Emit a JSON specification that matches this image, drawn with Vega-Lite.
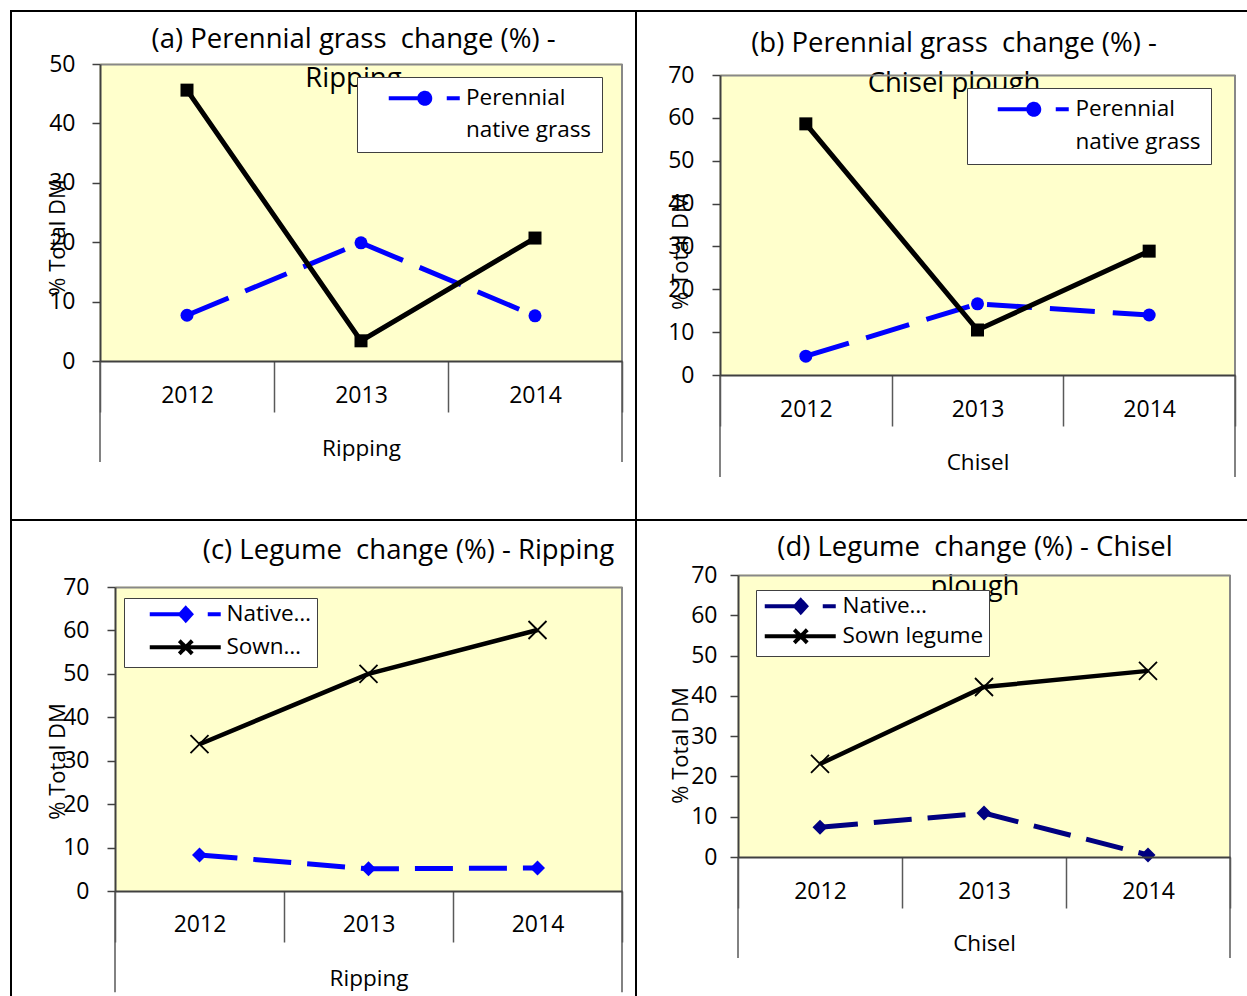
{
  "$schema": "https://vega.github.io/schema/vega-lite/v6.json",
  "background": "white",
  "padding": {"left": 10, "top": 10, "right": 0, "bottom": 0},
  "config": {
    "view": {"stroke": "black", "strokeWidth": 2, "fill": "white"},
    "font": "Open Sans",
    "axis": {"labelFont": "Open Sans", "titleFont": "Open Sans", "labelColor": "black", "titleColor": "black", "titleFontWeight": "normal", "labelFontSize": 23, "titleFontSize": 22.5, "grid": false},
    "legend": {"labelFont": "Open Sans", "labelFontSize": 22.5, "labelColor": "black"},
    "title": {"font": "Open Sans", "fontSize": 27.5, "fontWeight": "normal", "color": "black"}
  },
  "columns": 2,
  "spacing": 0,
  "bounds": "flush",
  "resolve": {"scale": {"x": "independent", "y": "independent", "color": "independent"}, "legend": {"color": "independent"}, "axis": {"x": "independent", "y": "independent"}},
  "concat": [
    {
      "width": 625, "height": 509,
      "title": {"text": ["(a) Perennial grass\u00a0 change (%) -", "Ripping"], "anchor": "middle", "frame": "group", "offset": -81, "dx": 30, "lineHeight": 39, "zindex": 0},
      "data": {"values": [
        {"year": "2012", "series": "Perennial native grass", "value": 7.7},
        {"year": "2013", "series": "Perennial native grass", "value": 19.9},
        {"year": "2014", "series": "Perennial native grass", "value": 7.6},
        {"year": "2012", "series": "Sown perennial grass", "value": 45.6},
        {"year": "2013", "series": "Sown perennial grass", "value": 3.4},
        {"year": "2014", "series": "Sown perennial grass", "value": 20.7}
      ]},
      "layer": [
        {
          "transform": [{"filter": "datum.series === 'Perennial native grass'"}],
          "mark": {"type": "rect", "fill": "#FFFFCC", "stroke": "#FFFFCC", "strokeWidth": 1},
          "encoding": {
            "x": {"field": "year", "type": "ordinal", "scale": {"type": "band", "range": [89, 611], "paddingInner": 0, "paddingOuter": 0},
              "axis": {"orient": "bottom", "offset": -159, "tickBand": "extent", "tickSize": 51, "tickColor": "#595959", "tickWidth": 1.5, "domainColor": "#404040", "domainWidth": 2, "labelAngle": 0, "labelBaseline": "middle", "labelPadding": -17, "title": "Ripping", "titleY": 87, "titleBaseline": "middle", "zindex": 1}},
            "y": {"datum": 0, "type": "quantitative", "scale": {"domain": [0, 50], "range": [350, 53], "nice": false, "zero": false},
              "axis": {"orient": "left", "offset": -89, "values": [0, 10, 20, 30, 40, 50], "tickSize": 8, "tickColor": "#404040", "tickWidth": 1.5, "domainColor": "#404040", "domainWidth": 2, "labelPadding": 17, "title": "% Total DM", "titleFontSize": 22, "titleAngle": 270, "titleX": -43, "titleY": 226, "titleAlign": "center", "titleBaseline": "middle", "grid": true, "gridColor": "#888888", "gridWidth": 2, "gridOpacity": {"condition": {"test": "datum.value === 50", "value": 1}, "value": 0}, "zindex": 1}},
            "y2": {"datum": 50}
          }
        },
        {
          "transform": [{"filter": "datum.series === 'Perennial native grass' && datum.year === '2014'"}],
          "mark": {"type": "rule", "color": "#888888", "strokeWidth": 2},
          "encoding": {"x": {"field": "year", "type": "ordinal", "bandPosition": 1}, "y": {"datum": 0}, "y2": {"datum": 50}}
        },
        {
          "transform": [{"filter": "datum.series === 'Perennial native grass' && datum.year === '2014'"}],
          "mark": {"type": "rule", "color": "#595959", "strokeWidth": 1.5},
          "encoding": {"x": {"field": "year", "type": "ordinal", "bandPosition": 1}, "y": {"datum": -17}, "y2": {"datum": 0}}
        },
        {
          "transform": [{"filter": "datum.series === 'Perennial native grass' && datum.year === '2012'"}],
          "mark": {"type": "rule", "color": "#595959", "strokeWidth": 1.5},
          "encoding": {"x": {"field": "year", "type": "ordinal", "bandPosition": 0}, "y": {"datum": -17}, "y2": {"datum": 0}}
        },
        {
          "transform": [{"filter": "datum.series === 'Perennial native grass'"}],
          "mark": {"type": "line", "strokeDash": [45, 18], "strokeWidth": 5},
          "encoding": {
            "x": {"field": "year", "type": "ordinal"},
            "y": {"field": "value", "type": "quantitative"},
            "color": {"field": "series", "type": "nominal", "scale": {"domain": ["Perennial native grass"], "range": ["#0000ff"]},
              "legend": {"orient": "none", "legendX": 346, "legendY": 66, "title": null, "fillColor": "white", "strokeColor": "#404040", "padding": 10, "labelExpr": "['Perennial', 'native grass\u00a0\u00a0']", "labelOffset": 0, "symbolOffset": 76.5, "labelLimit": 400, "symbolType": "M -13.2 0 L -6.0 0 M -4.9 0 A 1.1 1.1 0 1 1 -7.1 0 A 1.1 1.1 0 1 1 -4.9 0 Z M -1.6 0 L 1 0", "symbolSize": 100, "symbolStrokeWidth": 4, "symbolFillColor": "#0000ff", "symbolStrokeColor": "#0000ff", "zindex": 1,
                "encode": {"labels": {"update": {"lineHeight": {"value": 32}}}, "symbols": {"update": {"strokeDash": {"value": [1, 0]}, "fill": {"value": "#0000ff"}, "stroke": {"value": "#0000ff"}, "strokeWidth": {"value": 4}, "opacity": {"value": 1}}}}}}
          }
        },
        {
          "transform": [{"filter": "datum.series === 'Perennial native grass'"}],
          "mark": {"type": "point", "shape": "circle", "filled": true, "size": 169, "color": "#0000ff", "opacity": 1},
          "encoding": {"x": {"field": "year", "type": "ordinal"}, "y": {"field": "value", "type": "quantitative"}}
        },
        {
          "transform": [{"filter": "datum.series === 'Sown perennial grass'"}],
          "mark": {"type": "line", "color": "black", "strokeWidth": 5},
          "encoding": {"x": {"field": "year", "type": "ordinal"}, "y": {"field": "value", "type": "quantitative"}}
        },
        {
          "transform": [{"filter": "datum.series === 'Sown perennial grass'"}],
          "mark": {"type": "point", "shape": "square", "filled": true, "size": 169, "color": "black", "opacity": 1},
          "encoding": {"x": {"field": "year", "type": "ordinal"}, "y": {"field": "value", "type": "quantitative"}}
        }
      ]
    },
    {
      "width": 614, "height": 509,
      "title": {"text": ["(b) Perennial grass\u00a0 change (%) -", "Chisel plough"], "anchor": "middle", "frame": "group", "offset": -86, "dx": 11, "lineHeight": 40, "zindex": 0},
      "data": {"values": [
        {"year": "2012", "series": "Perennial native grass", "value": 4.4},
        {"year": "2013", "series": "Perennial native grass", "value": 16.6},
        {"year": "2014", "series": "Perennial native grass", "value": 14.0},
        {"year": "2012", "series": "Sown perennial grass", "value": 58.6},
        {"year": "2013", "series": "Sown perennial grass", "value": 10.5},
        {"year": "2014", "series": "Sown perennial grass", "value": 28.9}
      ]},
      "layer": [
        {
          "transform": [{"filter": "datum.series === 'Perennial native grass'"}],
          "mark": {"type": "rect", "fill": "#FFFFCC", "stroke": "#FFFFCC", "strokeWidth": 1},
          "encoding": {
            "x": {"field": "year", "type": "ordinal", "scale": {"type": "band", "range": [84, 599], "paddingInner": 0, "paddingOuter": 0},
              "axis": {"orient": "bottom", "offset": -145, "tickBand": "extent", "tickSize": 51, "tickColor": "#595959", "tickWidth": 1.5, "domainColor": "#404040", "domainWidth": 2, "labelAngle": 0, "labelBaseline": "middle", "labelPadding": -17, "title": "Chisel", "titleY": 87, "titleBaseline": "middle", "zindex": 1}},
            "y": {"datum": 0, "type": "quantitative", "scale": {"domain": [0, 70], "range": [364, 64], "nice": false, "zero": false},
              "axis": {"orient": "left", "offset": -84, "values": [0, 10, 20, 30, 40, 50, 60, 70], "tickSize": 8, "tickColor": "#404040", "tickWidth": 1.5, "domainColor": "#404040", "domainWidth": 2, "labelPadding": 18, "title": "% Total DM", "titleFontSize": 22, "titleAngle": 270, "titleX": -40, "titleY": 240, "titleAlign": "center", "titleBaseline": "middle", "grid": true, "gridColor": "#888888", "gridWidth": 2, "gridOpacity": {"condition": {"test": "datum.value === 70", "value": 1}, "value": 0}, "zindex": 1}},
            "y2": {"datum": 70}
          }
        },
        {
          "transform": [{"filter": "datum.series === 'Perennial native grass' && datum.year === '2014'"}],
          "mark": {"type": "rule", "color": "#888888", "strokeWidth": 2},
          "encoding": {"x": {"field": "year", "type": "ordinal", "bandPosition": 1}, "y": {"datum": 0}, "y2": {"datum": 70}}
        },
        {
          "transform": [{"filter": "datum.series === 'Perennial native grass' && datum.year === '2014'"}],
          "mark": {"type": "rule", "color": "#595959", "strokeWidth": 1.5},
          "encoding": {"x": {"field": "year", "type": "ordinal", "bandPosition": 1}, "y": {"datum": -23.8}, "y2": {"datum": 0}}
        },
        {
          "transform": [{"filter": "datum.series === 'Perennial native grass' && datum.year === '2012'"}],
          "mark": {"type": "rule", "color": "#595959", "strokeWidth": 1.5},
          "encoding": {"x": {"field": "year", "type": "ordinal", "bandPosition": 0}, "y": {"datum": -23.8}, "y2": {"datum": 0}}
        },
        {
          "transform": [{"filter": "datum.series === 'Perennial native grass'"}],
          "mark": {"type": "line", "strokeDash": [45, 18], "strokeWidth": 5},
          "encoding": {
            "x": {"field": "year", "type": "ordinal"},
            "y": {"field": "value", "type": "quantitative"},
            "color": {"field": "series", "type": "nominal", "scale": {"domain": ["Perennial native grass"], "range": ["#0000ff"]},
              "legend": {"orient": "none", "legendX": 331, "legendY": 77, "title": null, "fillColor": "white", "strokeColor": "#404040", "padding": 10, "labelExpr": "['Perennial', 'native grass\u00a0\u00a0']", "labelOffset": 0.5, "symbolOffset": 75.5, "labelLimit": 400, "symbolType": "M -13.2 0 L -6.0 0 M -4.9 0 A 1.1 1.1 0 1 1 -7.1 0 A 1.1 1.1 0 1 1 -4.9 0 Z M -1.6 0 L 1 0", "symbolSize": 100, "symbolStrokeWidth": 4, "symbolFillColor": "#0000ff", "symbolStrokeColor": "#0000ff", "zindex": 1,
                "encode": {"labels": {"update": {"lineHeight": {"value": 33}}}, "symbols": {"update": {"strokeDash": {"value": [1, 0]}, "fill": {"value": "#0000ff"}, "stroke": {"value": "#0000ff"}, "strokeWidth": {"value": 4}, "opacity": {"value": 1}}}}}}
          }
        },
        {
          "transform": [{"filter": "datum.series === 'Perennial native grass'"}],
          "mark": {"type": "point", "shape": "circle", "filled": true, "size": 169, "color": "#0000ff", "opacity": 1},
          "encoding": {"x": {"field": "year", "type": "ordinal"}, "y": {"field": "value", "type": "quantitative"}}
        },
        {
          "transform": [{"filter": "datum.series === 'Sown perennial grass'"}],
          "mark": {"type": "line", "color": "black", "strokeWidth": 5},
          "encoding": {"x": {"field": "year", "type": "ordinal"}, "y": {"field": "value", "type": "quantitative"}}
        },
        {
          "transform": [{"filter": "datum.series === 'Sown perennial grass'"}],
          "mark": {"type": "point", "shape": "square", "filled": true, "size": 169, "color": "black", "opacity": 1},
          "encoding": {"x": {"field": "year", "type": "ordinal"}, "y": {"field": "value", "type": "quantitative"}}
        }
      ]
    },
    {
      "width": 625, "height": 480,
      "title": {"text": "(c) Legume\u00a0 change (%) - Ripping", "anchor": "middle", "frame": "group", "offset": -44, "dx": 85, "zindex": 0},
      "data": {"values": [
        {"year": "2012", "series": "Native legume", "value": 8.3},
        {"year": "2013", "series": "Native legume", "value": 5.1},
        {"year": "2014", "series": "Native legume", "value": 5.3},
        {"year": "2012", "series": "Sown legume", "value": 33.8},
        {"year": "2013", "series": "Sown legume", "value": 50.0},
        {"year": "2014", "series": "Sown legume", "value": 60.1}
      ]},
      "layer": [
        {
          "transform": [{"filter": "datum.series === 'Native legume'"}],
          "mark": {"type": "rect", "fill": "#FFFFCC", "stroke": "#FFFFCC", "strokeWidth": 1},
          "encoding": {
            "x": {"field": "year", "type": "ordinal", "scale": {"type": "band", "range": [104, 611], "paddingInner": 0, "paddingOuter": 0},
              "axis": {"orient": "bottom", "offset": -109, "tickBand": "extent", "tickSize": 51, "tickColor": "#595959", "tickWidth": 1.5, "domainColor": "#404040", "domainWidth": 2, "labelAngle": 0, "labelBaseline": "middle", "labelPadding": -18, "title": "Ripping", "titleY": 87, "titleBaseline": "middle", "zindex": 1}},
            "y": {"datum": 0, "type": "quantitative", "scale": {"domain": [0, 70], "range": [371, 67], "nice": false, "zero": false},
              "axis": {"orient": "left", "offset": -104, "values": [0, 10, 20, 30, 40, 50, 60, 70], "tickSize": 8, "tickColor": "#404040", "tickWidth": 1.5, "domainColor": "#404040", "domainWidth": 2, "labelPadding": 18, "title": "% Total DM", "titleFontSize": 22, "titleAngle": 270, "titleX": -58, "titleY": 241, "titleAlign": "center", "titleBaseline": "middle", "grid": true, "gridColor": "#888888", "gridWidth": 2, "gridOpacity": {"condition": {"test": "datum.value === 70", "value": 1}, "value": 0}, "zindex": 1}},
            "y2": {"datum": 70}
          }
        },
        {
          "transform": [{"filter": "datum.series === 'Native legume' && datum.year === '2014'"}],
          "mark": {"type": "rule", "color": "#888888", "strokeWidth": 2},
          "encoding": {"x": {"field": "year", "type": "ordinal", "bandPosition": 1}, "y": {"datum": 0}, "y2": {"datum": 70}}
        },
        {
          "transform": [{"filter": "datum.series === 'Native legume' && datum.year === '2014'"}],
          "mark": {"type": "rule", "color": "#595959", "strokeWidth": 1.5},
          "encoding": {"x": {"field": "year", "type": "ordinal", "bandPosition": 1}, "y": {"datum": -23.3}, "y2": {"datum": 0}}
        },
        {
          "transform": [{"filter": "datum.series === 'Native legume' && datum.year === '2012'"}],
          "mark": {"type": "rule", "color": "#595959", "strokeWidth": 1.5},
          "encoding": {"x": {"field": "year", "type": "ordinal", "bandPosition": 0}, "y": {"datum": -23.3}, "y2": {"datum": 0}}
        },
        {
          "transform": [{"filter": "datum.series === 'Native legume'"}],
          "mark": {"type": "line", "strokeDash": [38, 16], "strokeWidth": 5},
          "encoding": {
            "x": {"field": "year", "type": "ordinal"},
            "y": {"field": "value", "type": "quantitative"},
            "color": {"field": "series", "type": "nominal", "scale": {"domain": ["Native legume", "Sown legume"], "range": ["#0000ff", "black"]},
              "legend": {"orient": "none", "legendX": 113, "legendY": 78, "title": null, "fillColor": "white", "strokeColor": "#404040", "padding": 5, "rowPadding": 3, "labelExpr": "datum.label === 'Native legume' ? 'Native…' : 'Sown…'", "labelOffset": -0.5, "symbolOffset": 75.5, "labelLimit": 400, "symbolSize": 100, "zindex": 1,
                "encode": {"symbols": {"update": {
                  "shape": {"signal": "datum.value === 'Native legume' ? 'M -13.2 0 L -6.0 0 M -6.0 -1.2 L -4.9 0 L -6.0 1.2 L -7.1 0 Z M -1.6 0 L 1 0' : 'M -13.2 0 L 1 0 M -7.3 -1.3 L -4.7 1.3 M -7.3 1.3 L -4.7 -1.3'"},
                  "fill": {"signal": "datum.value === 'Native legume' ? '#0000ff' : 'transparent'"},
                  "stroke": {"signal": "datum.value === 'Native legume' ? '#0000ff' : 'black'"},
                  "strokeDash": {"value": [1, 0]}, "strokeWidth": {"value": 4}, "size": {"value": 100}, "opacity": {"value": 1}}}}}}
          }
        },
        {
          "transform": [{"filter": "datum.series === 'Native legume'"}],
          "mark": {"type": "point", "shape": "diamond", "filled": true, "size": 225, "color": "#0000ff", "opacity": 1},
          "encoding": {"x": {"field": "year", "type": "ordinal"}, "y": {"field": "value", "type": "quantitative"}}
        },
        {
          "transform": [{"filter": "datum.series === 'Sown legume'"}],
          "mark": {"type": "line", "strokeWidth": 4.5},
          "encoding": {"x": {"field": "year", "type": "ordinal"}, "y": {"field": "value", "type": "quantitative"}, "color": {"field": "series", "type": "nominal"}}
        },
        {
          "transform": [{"filter": "datum.series === 'Sown legume'"}],
          "mark": {"type": "point", "shape": "M -1 -1 L 1 1 M -1 1 L 1 -1", "filled": false, "size": 324, "stroke": "black", "strokeWidth": 1.8, "opacity": 1},
          "encoding": {"x": {"field": "year", "type": "ordinal"}, "y": {"field": "value", "type": "quantitative"}}
        }
      ]
    },
    {
      "width": 614, "height": 480,
      "title": {"text": ["(d) Legume\u00a0 change (%) - Chisel", "plough"], "anchor": "middle", "frame": "group", "offset": -80, "dx": 32, "lineHeight": 39, "zindex": 0},
      "data": {"values": [
        {"year": "2012", "series": "Native legume", "value": 7.4},
        {"year": "2013", "series": "Native legume", "value": 10.9},
        {"year": "2014", "series": "Native legume", "value": 0.5},
        {"year": "2012", "series": "Sown legume", "value": 23.1},
        {"year": "2013", "series": "Sown legume", "value": 42.2},
        {"year": "2014", "series": "Sown legume", "value": 46.2}
      ]},
      "layer": [
        {
          "transform": [{"filter": "datum.series === 'Native legume'"}],
          "mark": {"type": "rect", "fill": "#FFFFCC", "stroke": "#FFFFCC", "strokeWidth": 1},
          "encoding": {
            "x": {"field": "year", "type": "ordinal", "scale": {"type": "band", "range": [102, 594], "paddingInner": 0, "paddingOuter": 0},
              "axis": {"orient": "bottom", "offset": -143, "tickBand": "extent", "tickSize": 51, "tickColor": "#595959", "tickWidth": 1.5, "domainColor": "#404040", "domainWidth": 2, "labelAngle": 0, "labelBaseline": "middle", "labelPadding": -17, "title": "Chisel", "titleY": 86, "titleBaseline": "middle", "zindex": 1}},
            "y": {"datum": 0, "type": "quantitative", "scale": {"domain": [0, 70], "range": [337, 55], "nice": false, "zero": false},
              "axis": {"orient": "left", "offset": -102, "values": [0, 10, 20, 30, 40, 50, 60, 70], "tickSize": 8, "tickColor": "#404040", "tickWidth": 1.5, "domainColor": "#404040", "domainWidth": 2, "labelPadding": 13, "title": "% Total DM", "titleFontSize": 22, "titleAngle": 270, "titleX": -58, "titleY": 225, "titleAlign": "center", "titleBaseline": "middle", "grid": true, "gridColor": "#888888", "gridWidth": 2, "gridOpacity": {"condition": {"test": "datum.value === 70", "value": 1}, "value": 0}, "zindex": 1}},
            "y2": {"datum": 70}
          }
        },
        {
          "transform": [{"filter": "datum.series === 'Native legume' && datum.year === '2014'"}],
          "mark": {"type": "rule", "color": "#888888", "strokeWidth": 2},
          "encoding": {"x": {"field": "year", "type": "ordinal", "bandPosition": 1}, "y": {"datum": 0}, "y2": {"datum": 70}}
        },
        {
          "transform": [{"filter": "datum.series === 'Native legume' && datum.year === '2014'"}],
          "mark": {"type": "rule", "color": "#595959", "strokeWidth": 1.5},
          "encoding": {"x": {"field": "year", "type": "ordinal", "bandPosition": 1}, "y": {"datum": -25.1}, "y2": {"datum": 0}}
        },
        {
          "transform": [{"filter": "datum.series === 'Native legume' && datum.year === '2012'"}],
          "mark": {"type": "rule", "color": "#595959", "strokeWidth": 1.5},
          "encoding": {"x": {"field": "year", "type": "ordinal", "bandPosition": 0}, "y": {"datum": -25.1}, "y2": {"datum": 0}}
        },
        {
          "transform": [{"filter": "datum.series === 'Native legume'"}],
          "mark": {"type": "line", "strokeDash": [38, 16], "strokeWidth": 5},
          "encoding": {
            "x": {"field": "year", "type": "ordinal"},
            "y": {"field": "value", "type": "quantitative"},
            "color": {"field": "series", "type": "nominal", "scale": {"domain": ["Native legume", "Sown legume"], "range": ["#000080", "black"]},
              "legend": {"orient": "none", "legendX": 120, "legendY": 70, "title": null, "fillColor": "white", "strokeColor": "#404040", "padding": 5, "rowPadding": 0, "labelExpr": "datum.label === 'Native legume' ? 'Native…' : datum.label", "labelOffset": 0.5, "symbolOffset": 58.5, "labelLimit": 400, "symbolSize": 100, "zindex": 1,
                "encode": {"symbols": {"update": {
                  "shape": {"signal": "datum.value === 'Native legume' ? 'M -13.2 0 L -6.0 0 M -6.0 -1.2 L -4.9 0 L -6.0 1.2 L -7.1 0 Z M -1.6 0 L 1 0' : 'M -13.2 0 L 1 0 M -7.3 -1.3 L -4.7 1.3 M -7.3 1.3 L -4.7 -1.3'"},
                  "fill": {"signal": "datum.value === 'Native legume' ? '#000080' : 'transparent'"},
                  "stroke": {"signal": "datum.value === 'Native legume' ? '#000080' : 'black'"},
                  "strokeDash": {"value": [1, 0]}, "strokeWidth": {"value": 4}, "size": {"value": 100}, "opacity": {"value": 1}}}}}}
          }
        },
        {
          "transform": [{"filter": "datum.series === 'Native legume'"}],
          "mark": {"type": "point", "shape": "diamond", "filled": true, "size": 225, "color": "#000080", "opacity": 1},
          "encoding": {"x": {"field": "year", "type": "ordinal"}, "y": {"field": "value", "type": "quantitative"}}
        },
        {
          "transform": [{"filter": "datum.series === 'Sown legume'"}],
          "mark": {"type": "line", "strokeWidth": 4.5},
          "encoding": {"x": {"field": "year", "type": "ordinal"}, "y": {"field": "value", "type": "quantitative"}, "color": {"field": "series", "type": "nominal"}}
        },
        {
          "transform": [{"filter": "datum.series === 'Sown legume'"}],
          "mark": {"type": "point", "shape": "M -1 -1 L 1 1 M -1 1 L 1 -1", "filled": false, "size": 324, "stroke": "black", "strokeWidth": 1.8, "opacity": 1},
          "encoding": {"x": {"field": "year", "type": "ordinal"}, "y": {"field": "value", "type": "quantitative"}}
        }
      ]
    }
  ]
}
